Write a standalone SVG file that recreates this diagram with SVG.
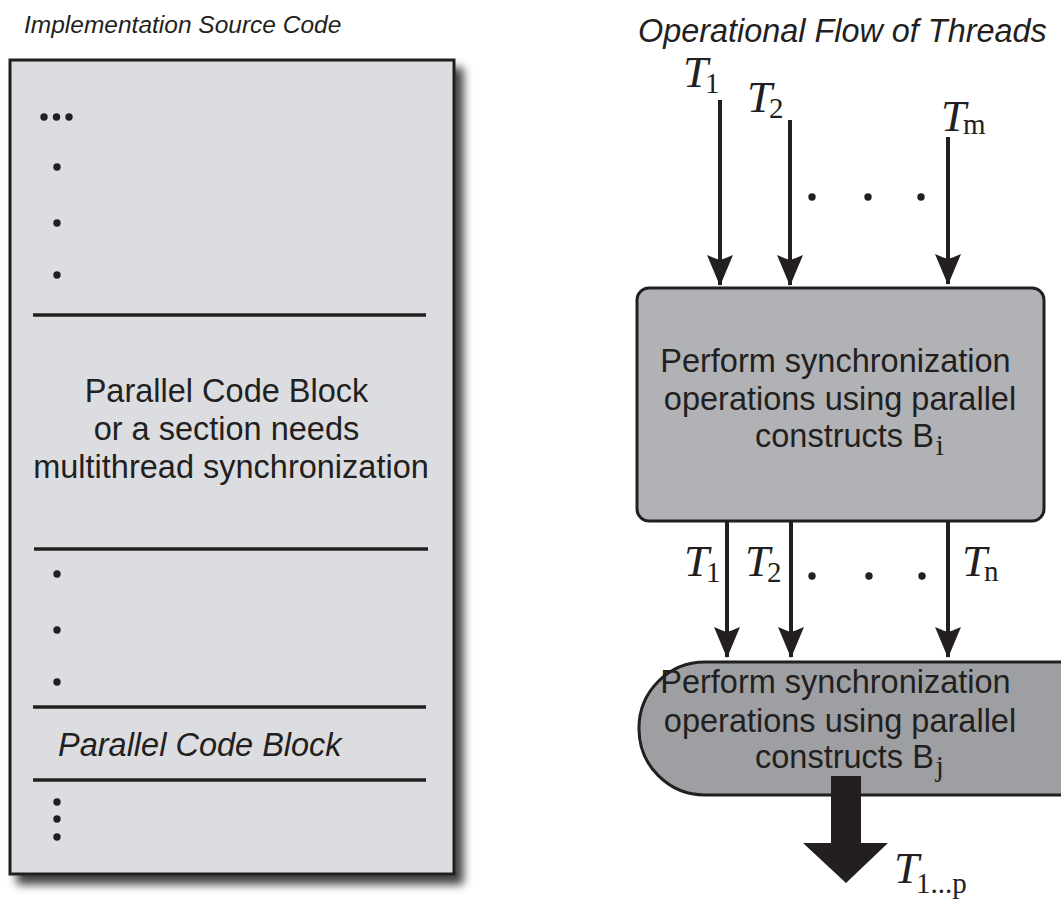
<svg xmlns="http://www.w3.org/2000/svg" width="1061" height="901" viewBox="0 0 1061 901">
<defs>
<filter id="sh" x="-10%" y="-10%" width="130%" height="130%">
<feGaussianBlur in="SourceAlpha" stdDeviation="5"/>
<feOffset dx="8" dy="9"/>
<feComponentTransfer><feFuncA type="linear" slope="0.75"/></feComponentTransfer>
<feMerge><feMergeNode/><feMergeNode in="SourceGraphic"/></feMerge>
</filter>
<marker id="ah" viewBox="0 0 31 26" refX="30" refY="13" markerWidth="31" markerHeight="26" markerUnits="userSpaceOnUse" orient="auto">
<path d="M0,0 Q4,9 5,13 Q4,17 0,26 L31,13 Z" fill="#231f20"/>
</marker>
</defs>
<style>
.sans{font-family:"Liberation Sans",Arial,sans-serif;fill:#231f20}
.ttl{font-family:"Liberation Sans",Arial,sans-serif;font-style:italic;fill:#231f20}
.T{font-family:"Liberation Serif","Times New Roman",serif;font-style:italic;font-size:45px;fill:#231f20}
.sub{font-family:"Liberation Serif","Times New Roman",serif;font-style:normal;font-size:29px}
.sep{stroke:#231f20;stroke-width:3.5}
.dot{fill:#231f20}
.conn{stroke:#231f20;stroke-width:4;fill:none;marker-end:url(#ah)}
.box{stroke:#231f20;stroke-width:3}
</style>
<rect width="1061" height="901" fill="#ffffff"/>

<g id="left-title"><text class="ttl" x="24" y="33" font-size="24.5">Implementation Source Code</text></g>

<g id="source-code">
<rect x="10" y="60" width="444" height="814" fill="#dcdde0" stroke="#231f20" stroke-width="3" filter="url(#sh)"/>
<g class="dot">
<circle cx="44" cy="117" r="3.7"/><circle cx="56.5" cy="117" r="3.7"/><circle cx="69" cy="117" r="3.7"/>
<circle cx="57" cy="167" r="3.7"/><circle cx="57" cy="223" r="3.7"/><circle cx="57" cy="275" r="3.7"/>
<circle cx="57" cy="574" r="3.7"/><circle cx="57" cy="630" r="3.7"/><circle cx="57" cy="682" r="3.7"/>
<circle cx="57" cy="802" r="3.7"/><circle cx="57" cy="819" r="3.7"/><circle cx="57" cy="837" r="3.7"/>
</g>
<line class="sep" x1="33" y1="315" x2="426" y2="315"/>
<line class="sep" x1="34" y1="549" x2="428" y2="549"/>
<line class="sep" x1="33" y1="707" x2="426" y2="707"/>
<line class="sep" x1="33" y1="780" x2="426" y2="780"/>
<text class="sans" font-size="32.5" text-anchor="middle">
<tspan x="231" y="402">Parallel Code Block</tspan>
<tspan x="231" y="440">or a section needs</tspan>
<tspan x="231" y="478">multithread synchronization</tspan>
</text>
<text class="sans" font-size="32.5" font-style="italic" x="58" y="756">Parallel Code Block</text>
</g>

<g id="right-title"><text class="ttl" x="638" y="42" font-size="32.4">Operational Flow of Threads</text></g>

<g id="box-bi">
<rect class="box" x="637" y="288" width="407" height="233" rx="12" fill="#b1b2b5"/>
<text class="sans" font-size="32.5" text-anchor="middle">
<tspan x="840" y="372">Perform synchronization</tspan>
<tspan x="840" y="410">operations using parallel</tspan>
</text>
<text class="sans" font-size="32.5" x="755" y="447">constructs B<tspan class="sub" dx="2" dy="8" font-size="26">i</tspan></text>
</g>

<g id="box-bj">
<path class="box" d="M705,662 H1100 V795 H705 A66,66 0 0 1 639,729 A66,66 0 0 1 705,662 Z" fill="#9d9fa2"/>
<text class="sans" font-size="32.5" text-anchor="middle">
<tspan x="840" y="693">Perform synchronization</tspan>
<tspan x="840" y="732">operations using parallel</tspan>
</text>
<text class="sans" font-size="32.5" x="755" y="768">constructs B<tspan class="sub" dx="2" dy="8" font-size="26">j</tspan></text>
</g>

<g id="connectors">
<line class="conn" x1="720" y1="100" x2="720" y2="285"/>
<line class="conn" x1="790" y1="120" x2="790" y2="285"/>
<line class="conn" x1="948" y1="137" x2="948" y2="284"/>
<line class="conn" x1="727" y1="521" x2="727" y2="657"/>
<line class="conn" x1="791" y1="521" x2="791" y2="657"/>
<line class="conn" x1="948" y1="521" x2="948" y2="657"/>
<path d="M831,776 H861 V843 H888 L846,883 L803,843 H831 Z" fill="#231f20"/>
</g>

<g id="labels">
<g class="dot">
<circle cx="812" cy="197" r="3.7"/><circle cx="868" cy="197" r="3.7"/><circle cx="921" cy="197" r="3.7"/>
<circle cx="812" cy="576" r="3.7"/><circle cx="869" cy="576" r="3.7"/><circle cx="922" cy="576" r="3.7"/>
</g>
<text class="T" x="683" y="87">T<tspan class="sub" dx="-3" dy="6">1</tspan></text>
<text class="T" x="747" y="112">T<tspan class="sub" dx="-3" dy="6">2</tspan></text>
<text class="T" x="941" y="131">T<tspan class="sub" dx="-3" dy="3">m</tspan></text>
<text class="T" x="684" y="576">T<tspan class="sub" dx="-3" dy="6">1</tspan></text>
<text class="T" x="745" y="576">T<tspan class="sub" dx="-3" dy="6">2</tspan></text>
<text class="T" x="962" y="576">T<tspan class="sub" dx="-3" dy="5">n</tspan></text>
<text class="T" x="894" y="883">T<tspan class="sub" dx="-3" dy="10">1...p</tspan></text>
</g>
</svg>
